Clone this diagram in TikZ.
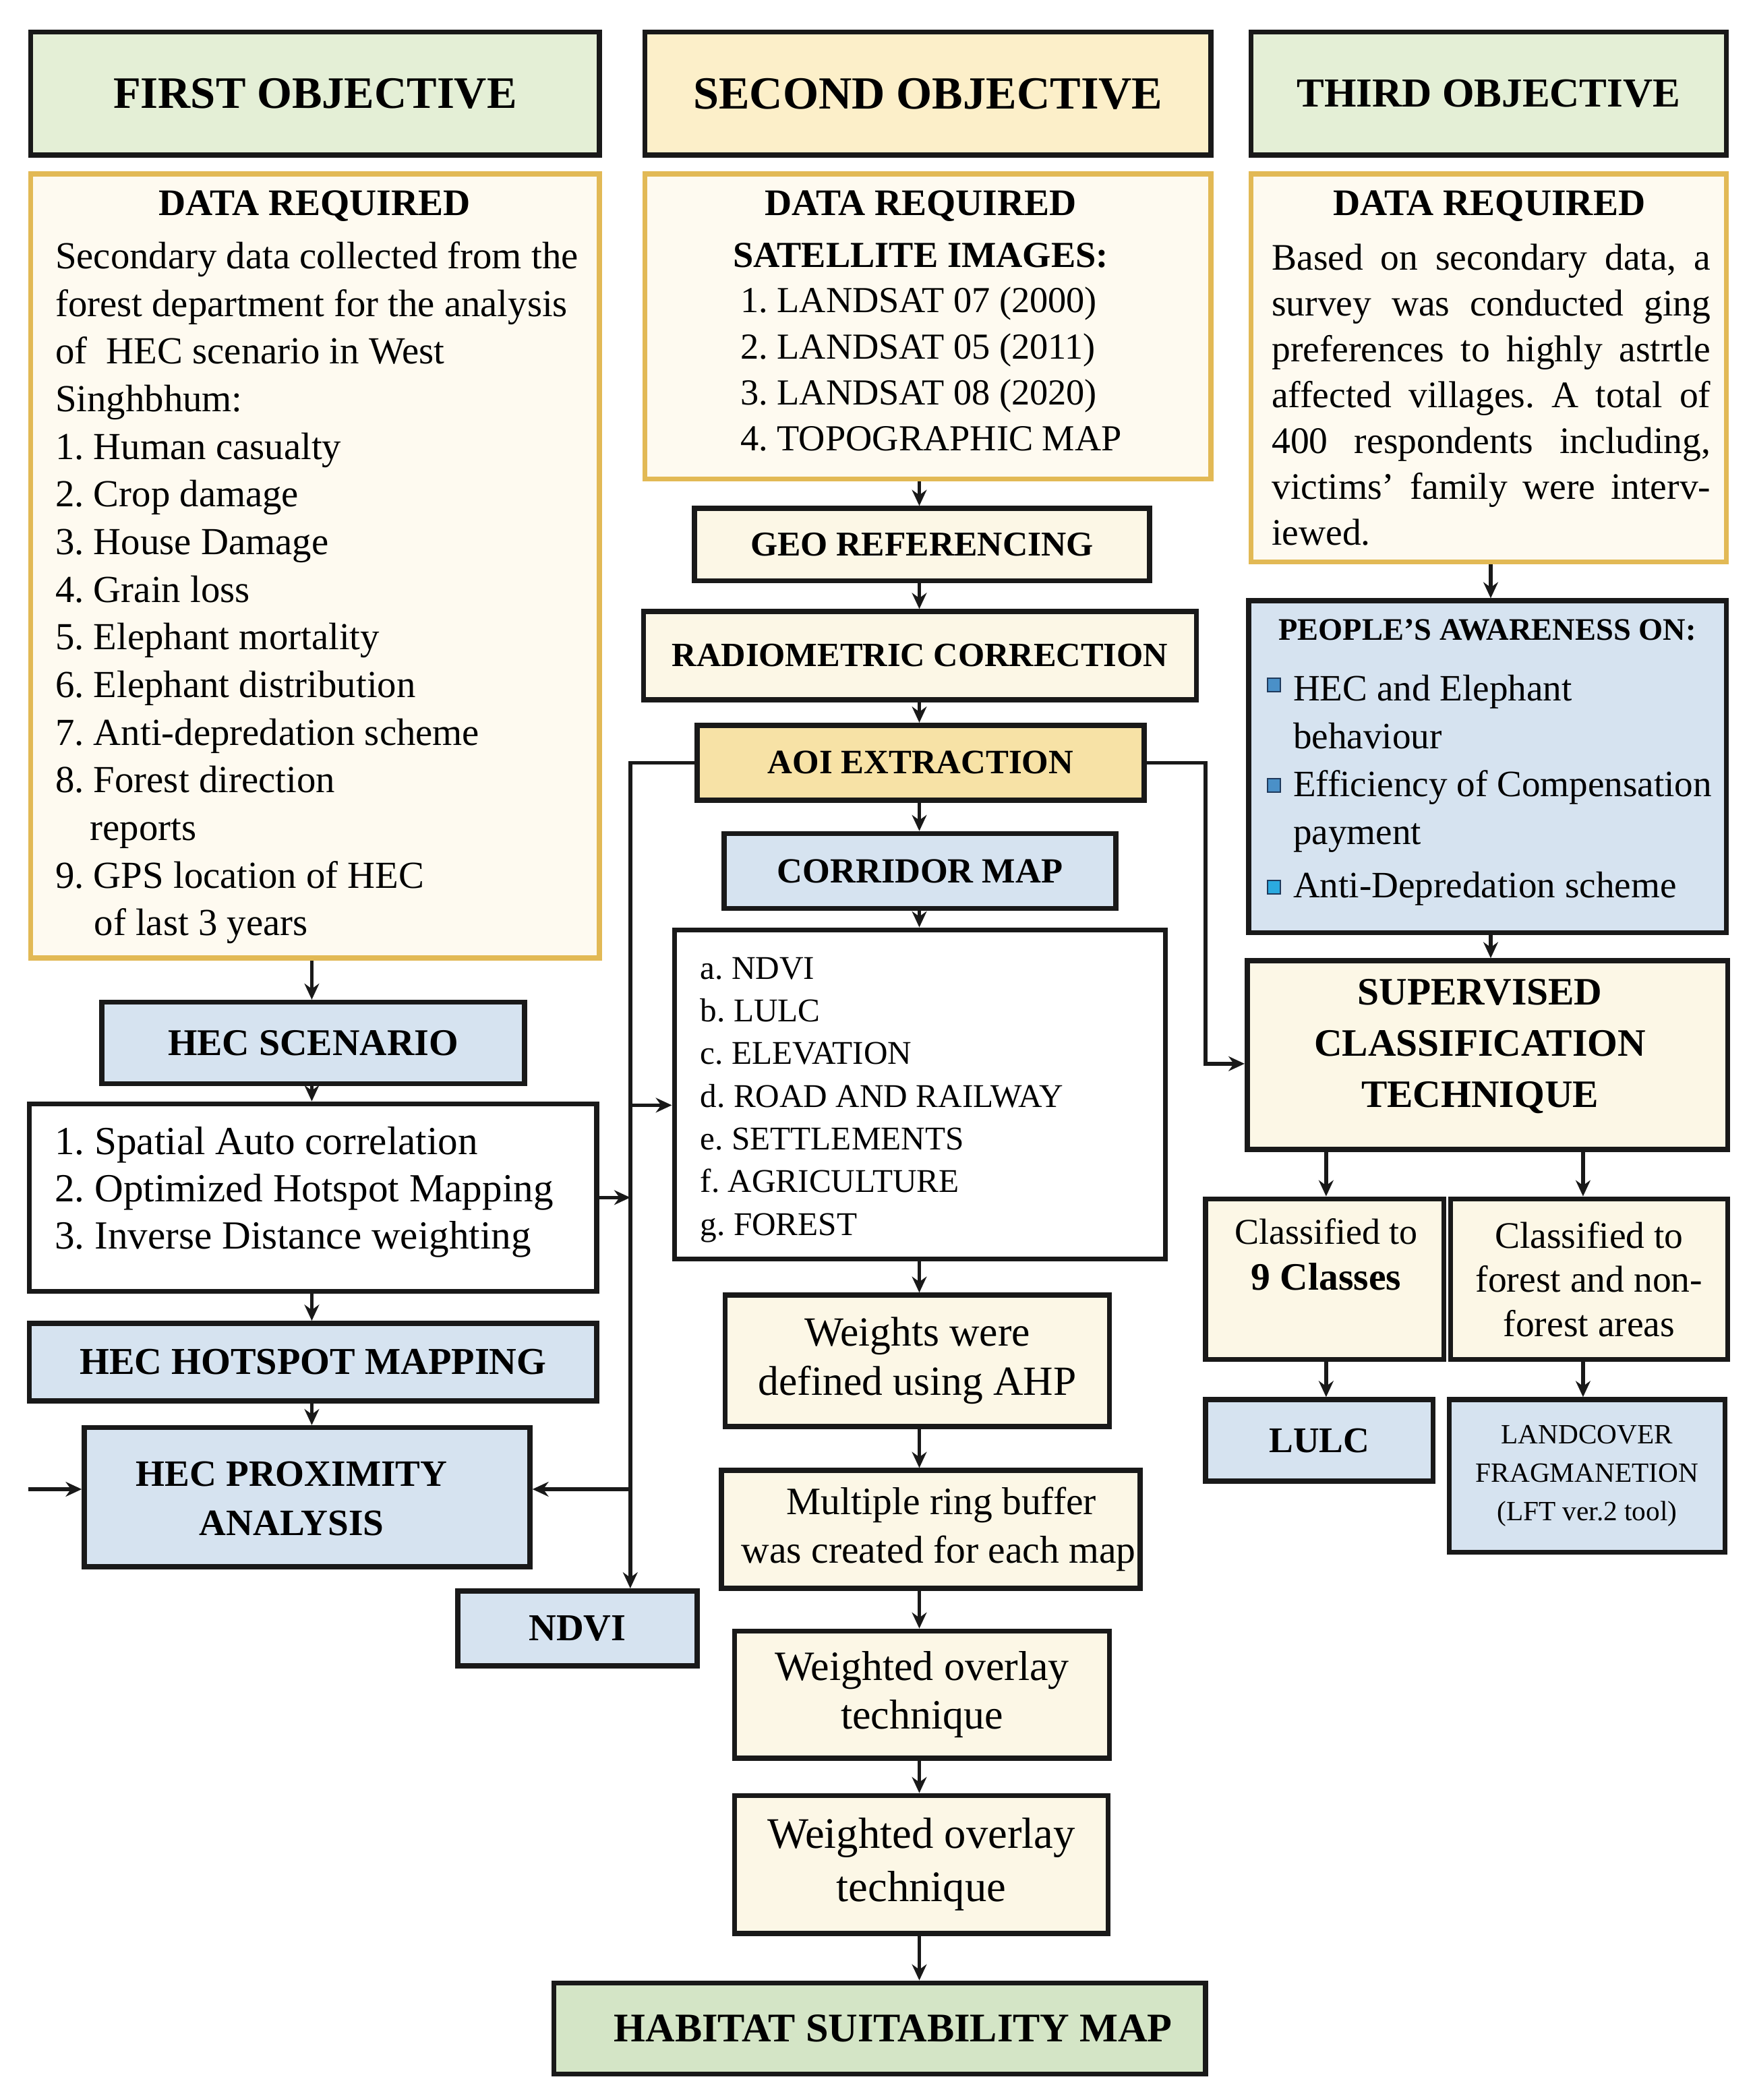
\documentclass[tikz,border=0pt]{standalone}
\usepackage{fontspec}
\setmainfont{Liberation Serif}
\usetikzlibrary{arrows.meta}
\definecolor{objgreen}{HTML}{E4EFD6}
\definecolor{objyellow}{HTML}{FCEFC9}
\definecolor{drfill}{HTML}{FEFAF0}
\definecolor{gold}{HTML}{E2B955}
\definecolor{cream}{HTML}{FCF7E6}
\definecolor{aoiyellow}{HTML}{F7E2A6}
\definecolor{lblue}{HTML}{D6E3F0}
\definecolor{habgreen}{HTML}{D4E5C6}
\definecolor{bulblue}{HTML}{4A90C8}
\definecolor{bulcyan}{HTML}{2BAAE0}
\definecolor{bulborder}{HTML}{1F3A5C}
\newcommand{\fs}[2]{\fontsize{#1}{#2}\selectfont}
\newcommand{\bx}[7]{\node[#2, minimum width={(#5-#3)*0.5pt}, minimum height={(#6-#4)*0.5pt}] (#1) at ({(#3+#5)/2},{(#4+#6)/2}) {#7};}
\frenchspacing
\begin{document}
\begin{tikzpicture}[x=0.5pt,y=-0.5pt,
  box/.style={draw=black!90, line width=1.9pt, inner sep=0pt, align=center},
  drbox/.style={draw=gold, line width=1.9pt, fill=drfill, inner sep=0pt},
  txt/.style={inner sep=0pt, align=left, anchor=west},
  ctxt/.style={inner sep=0pt, align=center},
  arr/.style={line width=1.4pt, black!90, -{Stealth[length=6pt,width=5.5pt]}},
  bul/.style={draw=bulborder, line width=0.5pt, minimum size=5pt, inner sep=0pt}]
\fill[white] (0,0) rectangle (1310,1569.5);
\useasboundingbox (0,0) rectangle (1310,1569.5);

% ---------- headers ----------
\bx{obj1}{box, fill=objgreen, font=\bfseries\fs{16.8}{20}}{23}{24}{448}{116}{FIRST OBJECTIVE}
\bx{obj2}{box, fill=objyellow, font=\bfseries\fs{17.2}{20}}{482}{24}{905}{116}{SECOND OBJECTIVE}
\bx{obj3}{box, fill=objgreen, font=\bfseries\fs{15.4}{20}}{935}{24}{1290}{116}{THIRD OBJECTIVE}

% ---------- data required boxes ----------
\bx{dr1}{drbox}{23}{130}{448}{716}{}
\bx{dr2}{drbox}{482}{130}{905}{358}{}
\bx{dr3}{drbox}{935}{130}{1290}{420}{}

\node[ctxt, font=\bfseries\fs{14}{17}] (dr1h) at (235,154) {DATA REQUIRED};
\node[txt, font=\fs{14.3}{17.8}] (dr1t) at (41,443) {Secondary data collected from the\\
forest department for the analysis\\
of~ HEC scenario in West\\
Singhbhum:\\
1. Human casualty\\
2. Crop damage\\
3. House Damage\\
4. Grain loss\\
5. Elephant mortality\\
6. Elephant distribution\\
7. Anti-depredation scheme\\
8. Forest direction\\
\hspace*{13pt}reports\\
9. GPS location of HEC\\
\hspace*{14.5pt}of last 3 years};

\node[ctxt, font=\bfseries\fs{14}{17}] (dr2h) at (688,154) {DATA REQUIRED};
\node[ctxt, font=\bfseries\fs{13.7}{17}] (dr2s) at (688,191) {SATELLITE IMAGES:};
\node[txt, font=\fs{13.7}{17.2}] (dr2t) at (553,276) {1. LANDSAT 07 (2000)\\
2. LANDSAT 05 (2011)\\
3. LANDSAT 08 (2020)\\
4. TOPOGRAPHIC MAP};

\node[ctxt, font=\bfseries\fs{14}{17}] (dr3h) at (1113,154) {DATA REQUIRED};
\node[txt, font=\fs{14}{17.1}] (dr3t) at (950,295) {\makebox[164pt][s]{Based on secondary data, a}\\
\makebox[164pt][s]{survey was conducted ging}\\
\makebox[164pt][s]{preferences to highly astrtle}\\
\makebox[164pt][s]{affected villages. A total of}\\
\makebox[164pt][s]{400 respondents including,}\\
\makebox[164pt][s]{victims' family were interv-}\\
iewed.};

% ---------- middle column ----------
\bx{geo}{box, fill=cream, font=\bfseries\fs{13}{16}}{519}{380}{859}{434}{GEO REFERENCING}
\bx{radio}{box, fill=cream, font=\bfseries\fs{12.7}{16}}{481}{457}{894}{523}{RADIOMETRIC CORRECTION}
\bx{aoi}{box, fill=aoiyellow, font=\bfseries\fs{12.8}{16}}{521}{542}{855}{598}{AOI EXTRACTION}
\bx{corr}{box, fill=lblue, font=\bfseries\fs{13.2}{16}}{541}{623}{834}{679}{CORRIDOR MAP}
\bx{list}{box, fill=white}{504}{695}{871}{941}{}
\node[txt, font=\fs{12.4}{15.95}] (listt) at (523,822) {a. NDVI\\
b. LULC\\
c. ELEVATION\\
d. ROAD AND RAILWAY\\
e. SETTLEMENTS\\
f. AGRICULTURE\\
g. FOREST};
\bx{wts}{box, fill=cream, font=\fs{15.5}{18.5}}{542}{968}{829}{1066}{Weights were\\defined using AHP}
\bx{mrb}{box, fill=cream, font=\fs{14.5}{18}}{539}{1099}{852}{1187}{\hspace*{8pt}Multiple ring buffer\\\hspace*{6pt}was created for each map}
\bx{wo1}{box, fill=cream, font=\fs{15.6}{18.2}}{549}{1219}{829}{1314}{Weighted overlay\\technique}
\bx{wo2}{box, fill=cream, font=\fs{16.3}{20}}{549}{1342}{828}{1445}{Weighted overlay\\technique}
\bx{hab}{box, fill=habgreen, font=\bfseries\fs{15.2}{18}}{414}{1482}{901}{1550}{\hspace*{10pt}HABITAT SUITABILITY MAP}

% ---------- first column lower ----------
\bx{hec}{box, fill=lblue, font=\bfseries\fs{14.1}{17}}{76}{749}{392}{810}{HEC SCENARIO}
\bx{spat}{box, fill=white}{22}{825}{446}{965}{}
\node[txt, font=\fs{14.9}{17.7}] (spatt) at (40.6,891) {1. Spatial Auto correlation\\
2. Optimized Hotspot Mapping\\
3. Inverse Distance weighting};
\bx{hot}{box, fill=lblue, font=\bfseries\fs{14.2}{17}}{22}{989}{446}{1047}{HEC HOTSPOT MAPPING}
\bx{prox}{box, fill=lblue}{63}{1067}{396}{1171}{}
\node[ctxt, font=\bfseries\fs{13.9}{18.5}] (proxt) at (218,1120) {HEC PROXIMITY\\ANALYSIS};
\bx{ndvi}{box, fill=lblue, font=\bfseries\fs{14.2}{17}}{342}{1189}{521}{1245}{NDVI}

% ---------- third column ----------
\bx{ppl}{box, fill=lblue}{933}{449}{1290}{697}{}
\node[ctxt, font=\bfseries\fs{11.7}{14}] (pplh) at (1111.5,471) {PEOPLE'S AWARENESS ON:};
\node[bul, fill=bulblue] (bu1) at (952,512) {};
\node[bul, fill=bulblue] (bu2) at (952,587) {};
\node[bul, fill=bulcyan] (bu3) at (952,663) {};
\node[txt, font=\fs{13.9}{18}] (it1) at (966,532) {HEC and Elephant\\behaviour};
\node[txt, font=\fs{13.9}{18}] (it2) at (966,606.5) {Efficiency of Compensation\\payment};
\node[txt, font=\fs{13.9}{18}] (it3) at (966,664) {Anti-Depredation scheme};
\bx{sup}{box, fill=cream}{932}{718}{1291}{859}{}
\node[ctxt, font=\bfseries\fs{14.5}{19.1}] (supt) at (1106,782) {SUPERVISED\\CLASSIFICATION\\TECHNIQUE};
\bx{cls9}{box, fill=cream}{901}{896}{1079}{1016}{}
\node[ctxt, font=\fs{13.6}{17.2}] (cls9t) at (991,937.5) {Classified to\\{\bfseries\fs{14.5}{17.2}9 Classes}};
\bx{clsf}{box, fill=cream, font=\fs{14}{16.5}}{1084}{896}{1291}{1016}{Classified to\\forest and non-\\forest areas}
\bx{lulc}{box, fill=lblue, font=\bfseries\fs{13.5}{16}}{901}{1046}{1071}{1107}{LULC}
\bx{lc}{box, fill=lblue, font=\fs{10.4}{14.3}}{1083}{1046}{1289}{1160}{LANDCOVER\\FRAGMANETION\\(LFT ver.2 tool)}

% ---------- connectors ----------
\coordinate (c1) at (233,0);
\coordinate (c2) at (687,0);
\coordinate (c3) at (1114,0);
\coordinate (xa) at (991,0);
\coordinate (xb) at (1183,0);
\coordinate (vl) at (471,0);
\coordinate (vr) at (901,0);
\coordinate (ylist) at (0,826);
\coordinate (yprox) at (0,1113);
\coordinate (ysup) at (0,795);
\coordinate (fin) at (21,1113);

\draw[arr] (dr1.south -| c1) -- (hec.north -| c1);
\draw[arr] (hec.south -| c1) -- (spat.north -| c1);
\draw[arr] (spat.south -| c1) -- (hot.north -| c1);
\draw[arr] (hot.south -| c1) -- (prox.north -| c1);
\draw[arr] (fin) -- (prox.west |- fin);

\draw[arr] (dr2.south -| c2) -- (geo.north -| c2);
\draw[arr] (geo.south -| c2) -- (radio.north -| c2);
\draw[arr] (radio.south -| c2) -- (aoi.north -| c2);
\draw[arr] (aoi.south -| c2) -- (corr.north -| c2);
\draw[arr] (corr.south -| c2) -- (list.north -| c2);
\draw[arr] (list.south -| c2) -- (wts.north -| c2);
\draw[arr] (wts.south -| c2) -- (mrb.north -| c2);
\draw[arr] (mrb.south -| c2) -- (wo1.north -| c2);
\draw[arr] (wo1.south -| c2) -- (wo2.north -| c2);
\draw[arr] (wo2.south -| c2) -- (hab.north -| c2);

\draw[arr] (aoi.west) -| (vl |- ndvi.north);
\draw[arr] (vl |- ylist) -- (list.west |- ylist);
\draw[arr] (vl |- yprox) -- (prox.east |- yprox);
\draw[arr] (spat.east) -- (vl |- spat.east);
\draw[arr] (aoi.east) -| (vr |- ysup) -- (sup.west |- ysup);

\draw[arr] (dr3.south -| c3) -- (ppl.north -| c3);
\draw[arr] (ppl.south -| c3) -- (sup.north -| c3);
\draw[arr] (sup.south -| xa) -- (cls9.north -| xa);
\draw[arr] (sup.south -| xb) -- (clsf.north -| xb);
\draw[arr] (cls9.south -| xa) -- (lulc.north -| xa);
\draw[arr] (clsf.south -| xb) -- (lc.north -| xb);
\end{tikzpicture}
\end{document}
